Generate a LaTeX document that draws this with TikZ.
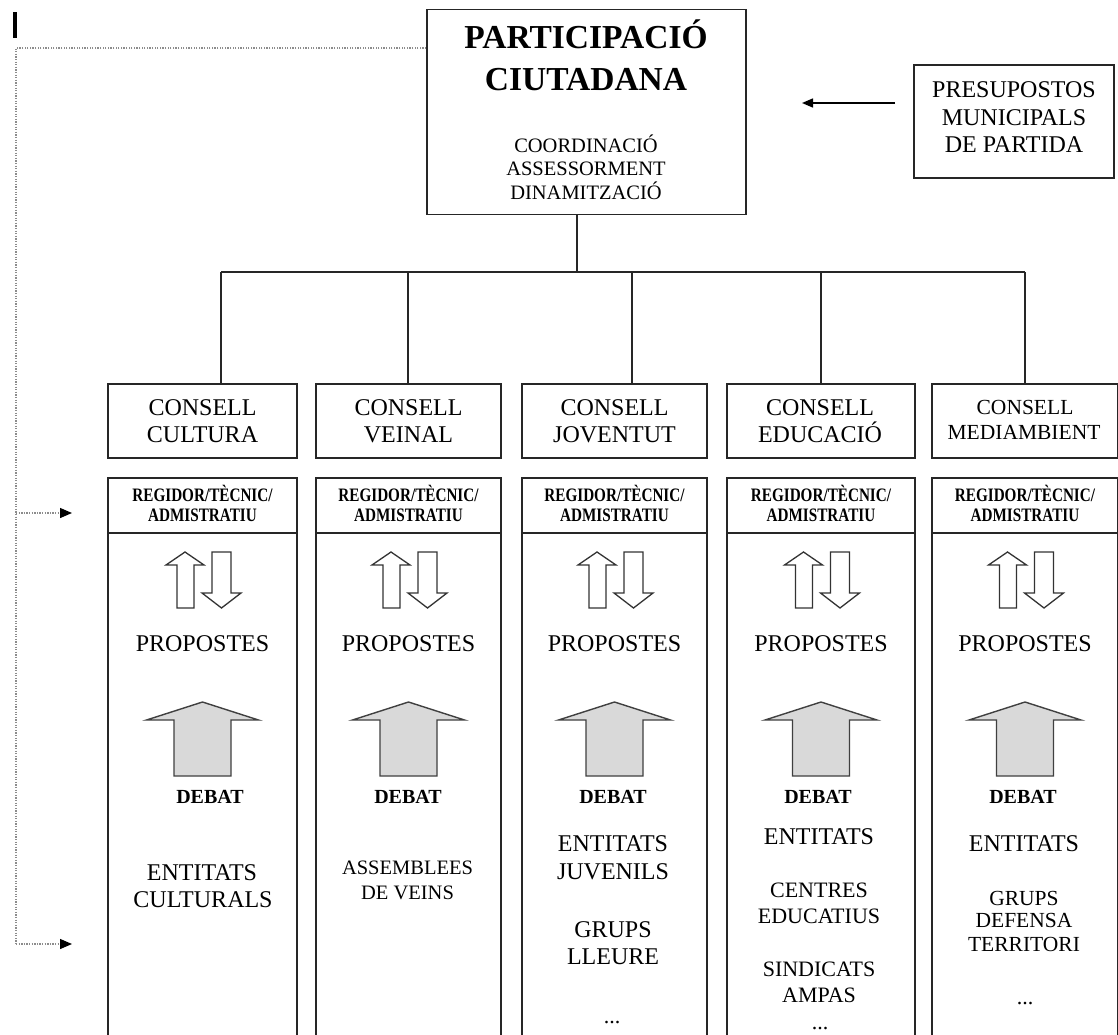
\documentclass[tikz,border=0pt]{standalone}
\usepackage{fontspec}
\usepackage{graphicx}
\setmainfont{Liberation Serif}
\usetikzlibrary{arrows.meta}
\definecolor{argray}{RGB}{217,217,217}
\begin{document}
\begin{tikzpicture}[x=1pt,y=-1pt,
  box/.style={draw=black!85, line width=1.5pt, inner sep=0pt},
  ln/.style={draw=black!85, line width=1.5pt},
  txt/.style={inner sep=0pt, anchor=base, font=\fontsize{#1}{#1}\selectfont},
  txtb/.style={inner sep=0pt, anchor=base, font=\fontsize{#1}{#1}\selectfont\bfseries},
  dotstxt/.style={inner sep=0pt, anchor=base, font=\fontsize{#1}{#1}\selectfont},
  hollow/.style={draw=black!80, line width=1.3pt, fill=white, line join=miter},
  bigarrow/.style={draw=black!75, line width=1.4pt, fill=argray},
  dotl/.style={draw=black!45, line width=1.3pt, dash pattern=on 1.3pt off 1.3pt},
  dtip/.style={-{Triangle[length=12pt,width=10pt,color=black]}}
]
\path[use as bounding box] (0,0) rectangle (1118,1035);
\clip (0,0) rectangle (1118,1035);
\fill[white] (0,0) rectangle (1118,1035);

% cursor bar
\fill[black] (13,12) rectangle (17,38);

% top box
\node[box, minimum width=319pt, minimum height=205pt] (top) at (586.5,112) {};
\node[txtb=33.5] (tt1) at (586,48.5) {PARTICIPACIÓ};
\node[txtb=33.5] (tt2) at (586,91) {CIUTADANA};
\node[txt=20.5] (tc1) at (586,152.3) {COORDINACIÓ};
\node[txt=20.5] (tc2) at (586,175.3) {ASSESSORMENT};
\node[txt=20.5] (tc3) at (586,199.3) {DINAMITZACIÓ};

% presupostos
\node[box, minimum width=200pt, minimum height=113pt] (pres) at (1014,121.5) {};
\node[txt=24] (pr1) at (1014,97.4) {PRESUPOSTOS};
\node[txt=24] (pr2) at (1014,125.4) {MUNICIPALS};
\node[txt=24] (pr3) at (1014,152.9) {DE PARTIDA};
\coordinate (pa) at (895,103);
\coordinate (pb) at (802,103);
\draw[line width=1.5pt, -{Triangle[length=11pt,width=9pt]}] (pa) -- (pb);

% tree
\coordinate (hub) at (577,272);
\draw[ln] (hub |- top.south) -- (hub);
\coordinate (d1) at (221,272);
\coordinate (d5) at (1025,272);
\draw[ln] (d1) -- (d5);

% columns
\foreach \i/\c/\w/\d/\b in {1/202.5/189/221/210, 2/408.5/185/408/408, 3/614.5/185/632/613, 4/821/188/821/818, 5/1025/186/1025/1023}{
  \node[box, minimum width=\w pt, minimum height=74pt] (c\i) at (\c,421) {};
  \node[box, minimum width=\w pt, minimum height=567pt] (l\i) at (\c,761.5) {};
  \draw[ln] (\c-\w/2,533) -- (\c+\w/2,533);
  \coordinate (dd\i) at (\d,272);
  \draw[ln] (dd\i) -- (dd\i |- c\i.north);
  \node[txtb=19] (ra\i) at (\c,501.3) {\scalebox{0.8}[1]{REGIDOR/TÈCNIC/}};
  \node[txtb=19] (rb\i) at (\c,521.3) {\scalebox{0.8}[1]{ADMISTRATIU}};
  % hollow arrows
  \draw[hollow] (\c-17.5,552) -- (\c+1.5,565) -- (\c-8.5,565) -- (\c-8.5,608)
     -- (\c-25.5,608) -- (\c-25.5,565) -- (\c-36.5,565) -- cycle;
  \draw[hollow] (\c+9.5,552) -- (\c+28.5,552) -- (\c+28.5,593) -- (\c+38.5,593)
     -- (\c+19,608) -- (\c-0.5,593) -- (\c+9.5,593) -- cycle;
  \node[txt=24] (p\i) at (\c,651.9) {PROPOSTES};
  % big gray arrow
  \draw[bigarrow] (\c,702) -- (\c+56,720) -- (\c+28.5,720) -- (\c+28.5,776)
     -- (\c-28.5,776) -- (\c-28.5,720) -- (\c-56,720) -- cycle;
  \node[txtb=20] (db\i) at (\b,803.6) {DEBAT};
}

% consell titles
\node[txt=24] (n1a) at (202.5,415.4) {CONSELL};
\node[txt=24] (n1b) at (202.5,442.9) {CULTURA};
\node[txt=24] (n2a) at (408.5,415.4) {CONSELL};
\node[txt=24] (n2b) at (408.5,442.9) {VEINAL};
\node[txt=24] (n3a) at (614.5,415.4) {CONSELL};
\node[txt=24] (n3b) at (614.5,442.9) {JOVENTUT};
\node[txt=24] (n4a) at (820,415.4) {CONSELL};
\node[txt=24] (n4b) at (820,442.9) {EDUCACIÓ};
\node[txt=21.5] (n5a) at (1025,414.6) {CONSELL};
\node[txt=21.5] (n5b) at (1024,439.6) {MEDIAMBIENT};

% bottom texts
\node[txt=24] (e1a) at (202,880.9) {ENTITATS};
\node[txt=24] (e1b) at (203,907.9) {CULTURALS};

\node[txt=20.5] (e2a) at (407.5,874.8) {ASSEMBLEES};
\node[txt=20.5] (e2b) at (407.5,899.8) {DE VEINS};

\node[txt=24] (e3a) at (613,851.4) {ENTITATS};
\node[txt=24] (e3b) at (613,879.9) {JUVENILS};
\node[txt=24] (e3c) at (613,937.4) {GRUPS};
\node[txt=24] (e3d) at (613,964.9) {LLEURE};
\node[dotstxt=22] (e3e) at (612,1023) {...};

\node[txt=24] (e4a) at (819,844.4) {ENTITATS};
\node[txt=22] (e4b) at (819,897.8) {CENTRES};
\node[txt=22] (e4c) at (819,923.8) {EDUCATIUS};
\node[txt=22] (e4d) at (819,976.3) {SINDICATS};
\node[txt=22] (e4e) at (819,1002.3) {AMPAS};
\node[dotstxt=22] (e4f) at (820,1029) {...};

\node[txt=24] (e5a) at (1024,851.4) {ENTITATS};
\node[txt=21.5] (e5b) at (1024,905.1) {GRUPS};
\node[txt=21.5] (e5c) at (1024,927.6) {DEFENSA};
\node[txt=21.5] (e5d) at (1024,951.1) {TERRITORI};
\node[dotstxt=22] (e5e) at (1025,1004) {...};

% dotted feedback line
\coordinate (dl0) at (16,48);
\coordinate (dl1) at (16,513);
\coordinate (dl2) at (16,944);
\coordinate (ea) at (72,513);
\coordinate (eb) at (72,944);
\draw[dotl] (top.west |- dl0) -- (dl0) -- (dl2);
\draw[dotl, dtip] (dl2) -- (eb);
\draw[dotl, dtip] (dl1) -- (ea);
\end{tikzpicture}
\end{document}
